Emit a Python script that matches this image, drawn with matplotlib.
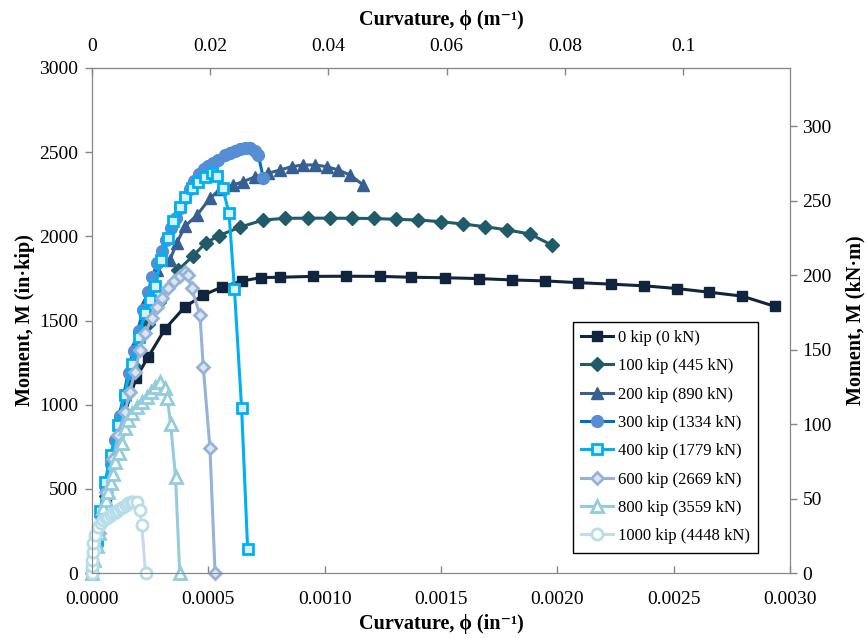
import matplotlib

matplotlib.use("Agg")
import matplotlib.pyplot as plt

plt.rcParams["font.family"] = ["Liberation Serif", "DejaVu Serif"]

# curvature (1/in) and moment (in-kip), one pair of lists per axial load
k0_phi = [0, 0.00006, 0.00012, 0.00019, 0.000242, 0.000314, 0.000400, 0.000479, 0.000560,
          0.000645, 0.000728, 0.000806, 0.000948, 0.001092, 0.001236, 0.001373, 0.001518,
          0.001662, 0.001806, 0.001948, 0.002088, 0.002229, 0.002373, 0.002513, 0.002653,
          0.002794, 0.002935]
k0_m = [0, 450, 860, 1160, 1285, 1450, 1582, 1651, 1700, 1735, 1755, 1757, 1762, 1763, 1762,
        1757, 1754, 1749, 1741, 1735, 1725, 1716, 1706, 1690, 1668, 1645, 1584]

k100_phi = [0, 0.00006, 0.00012, 0.00018, 0.00024, 0.00029, 0.000371, 0.000435, 0.000488,
            0.000545, 0.000637, 0.000736, 0.000831, 0.000927, 0.001022, 0.001117, 0.001210,
            0.001306, 0.001402, 0.001500, 0.001595, 0.001691, 0.001785, 0.001882, 0.001975]
k100_m = [0, 460, 880, 1230, 1480, 1610, 1800, 1885, 1960, 2004, 2055, 2097, 2107, 2108, 2108,
          2107, 2106, 2101, 2097, 2087, 2073, 2057, 2038, 2014, 1949]

k200_phi = [0, 0.00006, 0.00012, 0.00018, 0.00023, 0.00028, 0.000335, 0.000364, 0.000400,
            0.000452, 0.000507, 0.000550, 0.000607, 0.000650, 0.000701, 0.000758, 0.000808,
            0.000858, 0.000908, 0.000958, 0.001009, 0.001059, 0.001109, 0.001166]
k200_m = [0, 480, 950, 1350, 1620, 1800, 1860, 1960, 2060, 2127, 2226, 2279, 2305, 2325, 2354,
          2375, 2394, 2414, 2424, 2424, 2414, 2394, 2364, 2305]

k300_phi = [0, 0.00002, 0.00004, 0.00006, 0.00008, 0.00010, 0.00012, 0.00014, 0.00016,
            0.00018, 0.00020, 0.00022, 0.00024, 0.00026, 0.00028, 0.00030, 0.00032, 0.00034,
            0.00036, 0.00038, 0.00040, 0.00042, 0.00044, 0.00046, 0.00048, 0.000500, 0.000521,
            0.000543, 0.000572, 0.000593, 0.000615, 0.000636, 0.000658, 0.000679, 0.000701,
            0.000715, 0.000736]
k300_m = [0, 170, 340, 500, 650, 790, 930, 1060, 1190, 1320, 1440, 1560, 1670, 1760, 1840,
          1910, 1980, 2050, 2110, 2170, 2230, 2280, 2330, 2370, 2400, 2420, 2434, 2454, 2483,
          2497, 2509, 2517, 2523, 2523, 2509, 2483, 2348]

k400_phi = [0, 0.00002, 0.000035, 0.000056, 0.00008, 0.00011, 0.00014, 0.00017, 0.00020,
            0.000228, 0.000250, 0.000271, 0.000297, 0.000325, 0.000349, 0.000378, 0.000400,
            0.000428, 0.000456, 0.000486, 0.000514, 0.000536, 0.000561, 0.000589, 0.000612,
            0.000643, 0.000669]
k400_m = [0, 200, 370, 540, 700, 880, 1060, 1240, 1400, 1543, 1620, 1707, 1860, 1992, 2091,
          2176, 2232, 2287, 2325, 2354, 2375, 2361, 2290, 2137, 1690, 978, 141]

k600_phi = [0, 0.00003, 0.00006, 0.00009, 0.000113, 0.000142, 0.000163, 0.000185, 0.000206,
            0.000228, 0.000257, 0.000278, 0.000300, 0.000328, 0.000354, 0.000378, 0.000400,
            0.000414, 0.000428, 0.000464, 0.000478, 0.000507, 0.000529]
k600_m = [0, 240, 480, 680, 820, 958, 1077, 1196, 1325, 1424, 1513, 1582, 1636, 1695, 1735,
          1764, 1791, 1770, 1691, 1533, 1226, 741, 0]

k800_phi = [0, 0.00001, 0.00002, 0.00003, 0.000042, 0.000049, 0.000060, 0.000070, 0.000080,
            0.000090, 0.000098, 0.000117, 0.000128, 0.000142, 0.000156, 0.000171, 0.000192,
            0.000214, 0.000235, 0.000252, 0.000271, 0.000292, 0.000314, 0.000324, 0.000338,
            0.000359, 0.000377]
k800_m = [0, 80, 160, 240, 334, 384, 434, 483, 533, 590, 661, 711, 770, 860, 909, 949, 988,
          1018, 1047, 1077, 1107, 1137, 1097, 1038, 885, 572, 0]

k1000_phi = [0, 0.000001, 0.000002, 0.000003, 0.000006, 0.000013, 0.000027, 0.000038,
             0.000049, 0.000060, 0.000070, 0.000081, 0.000092, 0.000103, 0.000113, 0.000124,
             0.000135, 0.000146, 0.000156, 0.000167, 0.000178, 0.000192, 0.000206, 0.000214,
             0.000230]
k1000_m = [0, 40, 80, 127, 176, 226, 275, 298, 315, 325, 334, 345, 355, 365, 374, 384, 394,
           404, 414, 420, 424, 424, 374, 285, 0]

labels = ["0 kip (0 kN)", "100 kip (445 kN)", "200 kip (890 kN)", "300 kip (1334 kN)",
          "400 kip (1779 kN)", "600 kip (2669 kN)", "800 kip (3559 kN)", "1000 kip (4448 kN)"]

x_ticks = [0, 0.0005, 0.001, 0.0015, 0.002, 0.0025, 0.003]
y_ticks = [0, 500, 1000, 1500, 2000, 2500, 3000]
top_ticks = [0, 0.02, 0.04, 0.06, 0.08, 0.1]
top_tick_labels = ["0", "0.02", "0.04", "0.06", "0.08", "0.1"]
right_ticks = [0, 50, 100, 150, 200, 250, 300]

IN_PER_M = 39.37
KNM_PER_INKIP = 0.1129848
SPINE = "#868686"

series = [
    (k0_phi, k0_m, dict(color="#10243e", marker="s", ms=7.5, mfc="#10243e", mec="#10243e")),
    (k100_phi, k100_m, dict(color="#215a69", marker="D", ms=7, mfc="#215a69", mec="#215a69")),
    (k200_phi, k200_m, dict(color="#376092", marker="^", ms=8.5, mfc="#376092", mec="#376092")),
    (k300_phi, k300_m, dict(color="#0070c0", marker="o", ms=8.5, mfc="#558ed5", mec="#558ed5")),
    (k400_phi, k400_m, dict(color="#00b0f0", marker="s", ms=7.5, mfc="#dbeef4", mec="#00b0f0", mew=2)),
    (k600_phi, k600_m, dict(color="#95b3d7", marker="D", ms=6.5, mfc="#dce6f2", mec="#95b3d7", mew=2)),
    (k800_phi, k800_m, dict(color="#93cddd", marker="^", ms=8.5, mfc="white", mec="#93cddd", mew=2)),
    (k1000_phi, k1000_m, dict(color="#c6d9f1", marker="o", ms=8, mfc="white", mec="#b7dee8", mew=2)),
]

fig = plt.figure(figsize=(8.67, 6.38), dpi=100)
ax = fig.add_axes([92 / 867, 1 - 573 / 638, 698 / 867, 505 / 638])

for (phi, m, style), label in zip(series, labels):
    ax.plot(phi, m, lw=2.2, label=label, clip_on=False, **style)

ax.set_xlim(0, 0.003)
ax.set_ylim(0, 3000)
ax.set_xticks(x_ticks)
ax.set_xticklabels([f"{v:.4f}" for v in x_ticks])
ax.set_yticks(y_ticks)
ax.tick_params(axis="x", direction="in", length=5, width=1, color=SPINE, labelsize=14, pad=13)
ax.tick_params(axis="y", direction="out", length=5, width=1, color=SPINE, labelsize=14, pad=5)
for sp in ax.spines.values():
    sp.set_color(SPINE)
ax.set_xlabel("Curvature, ϕ (in⁻¹)", fontsize=14.5, fontweight="bold", labelpad=4)
ax.set_ylabel("Moment, M (in·kip)", fontsize=14.5, fontweight="bold", labelpad=3)

top = ax.secondary_xaxis("top", functions=(lambda x: x * IN_PER_M, lambda x: x / IN_PER_M))
top.set_xticks(top_ticks)
top.set_xticklabels(top_tick_labels)
top.tick_params(direction="in", length=5, width=1, color=SPINE, labelsize=14, pad=9)
top.spines["top"].set_color(SPINE)
top.set_xlabel("Curvature, ϕ (m⁻¹)", fontsize=14.5, fontweight="bold", labelpad=10)

right = ax.twinx()
right.set_ylim(0, 3000 * KNM_PER_INKIP)
right.set_yticks(right_ticks)
right.tick_params(direction="out", length=5, width=1, color=SPINE, labelsize=14, pad=4)
for sp in right.spines.values():
    sp.set_color(SPINE)
right.set_ylabel("Moment, M (kN·m)", fontsize=14.5, fontweight="bold", labelpad=10)

leg = ax.legend(loc="lower left", bbox_to_anchor=(0.677, 0.024), fontsize=12,
                frameon=True, fancybox=False, framealpha=1, edgecolor="black",
                labelspacing=0.74, handlelength=1.9, handletextpad=0.3, borderpad=0.5)
leg.get_frame().set_linewidth(1)
leg.set_zorder(5)
right.set_zorder(ax.get_zorder() - 1)
ax.patch.set_visible(False)

fig.savefig("out.png", dpi=100)
